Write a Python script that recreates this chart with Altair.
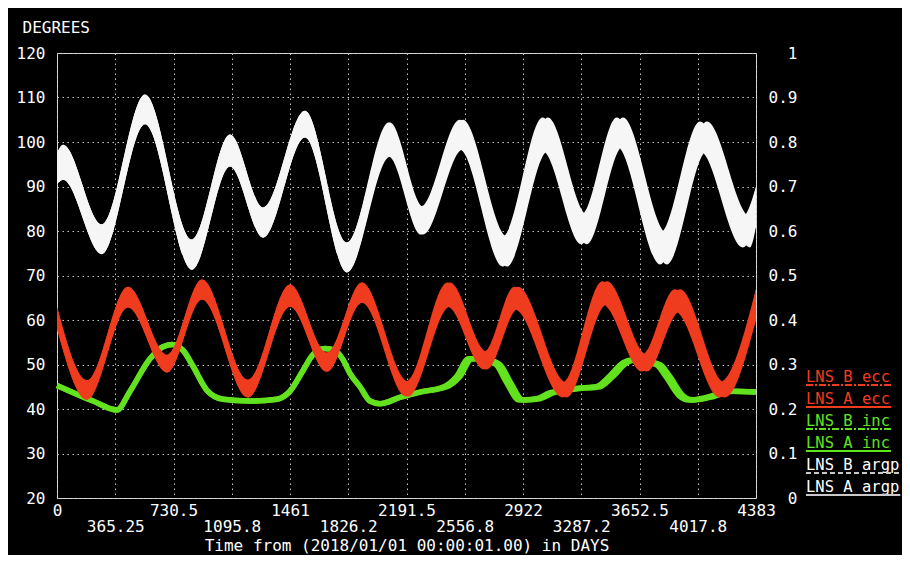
import altair as alt
import pandas as pd

FONT = "DejaVu Sans Mono"
RED = "#f03c1e"
GREEN = "#62e21e"
WHITE = "#f6f6f6"

# ---------------- data ----------------
# argument of perigee (degrees, left axis) - band envelopes
argpA_day = [0, 38, 282, 552, 846, 1085, 1292, 1555, 1818, 2088, 2295, 2545, 2821, 3078, 3323, 3549, 3824, 4075, 4345, 4383]
argpB_day = [0, 38, 282, 552, 846, 1085, 1292, 1555, 1818, 2080, 2282, 2525, 2795, 3045, 3288, 3510, 3782, 4032, 4300, 4383]
argp_lo = [90.5, 91.5, 74.8, 104.0, 71.3, 94.5, 78.5, 101.0, 70.7, 96.7, 79.2, 98.3, 72.0, 97.9, 77.0, 99.0, 72.5, 97.9, 76.3, 81.0]
argp_hi = [97.5, 99.4, 81.5, 110.7, 78.1, 101.7, 85.3, 107.0, 77.4, 104.4, 85.5, 105.0, 78.8, 105.5, 83.7, 105.5, 79.6, 104.6, 83.3, 90.0]

# eccentricity (right axis) - band envelopes
eccA_day = [0, 188, 445, 690, 909, 1197, 1461, 1693, 1912, 2201, 2464, 2696, 2890, 3197, 3448, 3699, 3906, 4188, 4383]
eccB_day = [0, 188, 445, 690, 909, 1197, 1461, 1693, 1912, 2190, 2448, 2678, 2868, 3172, 3420, 3668, 3874, 4155, 4383]
ecc_lo = [0.380, 0.221, 0.428, 0.282, 0.446, 0.226, 0.430, 0.284, 0.439, 0.228, 0.430, 0.289, 0.424, 0.226, 0.435, 0.284, 0.419, 0.226, 0.400]
ecc_hi = [0.430, 0.265, 0.475, 0.322, 0.491, 0.266, 0.480, 0.327, 0.484, 0.262, 0.484, 0.329, 0.475, 0.260, 0.487, 0.322, 0.469, 0.260, 0.470]

# inclination (degrees, left axis)
incA_day = [0, 226, 376, 458, 583, 665, 721, 790, 853, 940, 1041, 1210, 1379, 1461, 1542, 1605, 1680, 1743, 1793, 1837,
            1900, 1962, 2025, 2150, 2276, 2445, 2527, 2602, 2671, 2777, 2840, 2922, 3028, 3110, 3279, 3404, 3486, 3574,
            3624, 3781, 3843, 3925, 3987, 4094, 4238, 4383]
incB_day = [0, 226, 376, 458, 583, 665, 721, 790, 853, 940, 1041, 1210, 1379, 1461, 1542, 1605, 1680, 1743, 1793, 1837,
            1900, 1962, 2025, 2150, 2276, 2425, 2505, 2580, 2648, 2752, 2815, 2898, 3005, 3088, 3255, 3380, 3462, 3550,
            3600, 3755, 3818, 3900, 3962, 4070, 4215, 4383]
inc_val = [45.3, 41.8, 39.8, 44.0, 51.3, 54.0, 54.5, 53.2, 49.6, 44.2, 42.2, 41.8, 42.2, 44.0, 48.6, 52.2, 53.6, 53.2, 51.1, 48.0,
           45.0, 41.8, 41.2, 42.6, 43.8, 45.0, 47.3, 51.3, 51.3, 50.0, 46.2, 42.0, 42.3, 43.6, 44.6, 45.0, 47.3, 50.4,
           51.0, 50.0, 47.3, 43.0, 42.0, 42.6, 44.0, 43.8]

# axes
x_tick_days = [0, 365.25, 730.5, 1095.75, 1461, 1826.25, 2191.5, 2556.75, 2922, 3287.25, 3652.5, 4017.75, 4383]
x_tick_labels = ["0", "365.25", "730.5", "1095.8", "1461", "1826.2", "2191.5", "2556.8", "2922", "3287.2", "3652.5", "4017.8", "4383"]
deg_ticks = [20, 30, 40, 50, 60, 70, 80, 90, 100, 110, 120]
ecc_ticks = [0, 0.1, 0.2, 0.3, 0.4, 0.5, 0.6, 0.7, 0.8, 0.9, 1]

# legend
leg_names = ["LNS B ecc", "LNS A ecc", "LNS B inc", "LNS A inc", "LNS B argp", "LNS A argp"]
leg_text_colors = [RED, RED, GREEN, GREEN, "#ffffff", "#ffffff"]
leg_line_colors = [RED, RED, GREEN, GREEN, "#c8c8c8", "#c8c8c8"]
leg_styles = ["dashdot", "solid", "dashdot", "solid", "dash", "solid"]

# ---------------- tables ----------------
argpA = pd.DataFrame({"day": argpA_day, "lo": argp_lo, "hi": argp_hi})
argpB = pd.DataFrame({"day": argpB_day, "lo": argp_lo, "hi": argp_hi})
eccA = pd.DataFrame({"day": eccA_day, "lo": ecc_lo, "hi": ecc_hi})
eccB = pd.DataFrame({"day": eccB_day, "lo": ecc_lo, "hi": ecc_hi})
incA = pd.DataFrame({"day": incA_day, "inc": inc_val})
incB = pd.DataFrame({"day": incB_day, "inc": inc_val})

LEG_FS = 15.5
leg = pd.DataFrame({"name": leg_names, "tcolor": leg_text_colors, "lcolor": leg_line_colors, "style": leg_styles})
leg["i"] = range(len(leg))
leg["ty"] = 324 + 22 * leg["i"]
leg["uy"] = leg["ty"] + 8
leg["x1"] = 749
leg["x2"] = 749 + 0.602 * LEG_FS * leg["name"].str.len() + 1

# x label expression (two rows alternating)
parts = []
for k, (v, lab) in enumerate(zip(x_tick_days, x_tick_labels)):
    out = f"['', '{lab}']" if k % 2 else f"'{lab}'"
    parts.append(f"abs(datum.value - {v}) < 0.01 ? {out} : ")
x_label_expr = "".join(parts) + "''"

GRID_COLOR = "#c0c0c0"
GRID_DASH = [1.5, 3.5]

x_axis = alt.Axis(
    values=x_tick_days, labelExpr=x_label_expr, labelOverlap=False, labelFlush=False,
    labelAlign="center", labelBaseline="top", labelPadding=4, labelLineHeight=16,
    labelColor="white", labelFont=FONT, labelFontSize=16,
    ticks=False, domain=False, grid=True, gridColor=GRID_COLOR, gridDash=GRID_DASH, gridWidth=1,
    title="Time from (2018/01/01 00:00:01.00) in DAYS", titleColor="white", titleFont=FONT,
    titleFontSize=16, titleFontWeight="normal", titleY=47, titleBaseline="middle",
)
x_enc = alt.X("day:Q", scale=alt.Scale(domain=[0, 4383], nice=False, zero=False), axis=x_axis)

y_axis = alt.Axis(
    values=deg_ticks, format="d", labelPadding=12, labelColor="white", labelFont=FONT, labelFontSize=16,
    ticks=False, domain=False, grid=True, gridColor=GRID_COLOR, gridDash=GRID_DASH, gridWidth=1,
    title="DEGREES", titleAngle=0, titleX=-35, titleY=-26, titleAlign="left", titleBaseline="middle",
    titleColor="white", titleFont=FONT, titleFontSize=16, titleFontWeight="normal",
)
deg_scale = alt.Scale(domain=[20, 120], nice=False, zero=False)

r_axis = alt.Axis(
    orient="right", values=ecc_ticks, format="~g", labelAlign="right", labelPadding=41,
    labelColor="white", labelFont=FONT, labelFontSize=16, labelBaseline="middle",
    ticks=False, domain=False, grid=False, title=None,
)
ecc_scale = alt.Scale(domain=[0, 1], nice=False, zero=False)


def argp_layer(df):
    return alt.Chart(df).mark_area(color=WHITE, interpolate="monotone").encode(
        x=x_enc, y=alt.Y("lo:Q", scale=deg_scale, axis=y_axis), y2="hi:Q")


def inc_layer(df):
    return alt.Chart(df).mark_line(color=GREEN, strokeWidth=5.5, interpolate="monotone").encode(
        x=x_enc, y=alt.Y("inc:Q", scale=deg_scale, axis=y_axis))


def ecc_layer(df):
    return alt.Chart(df).mark_area(color=RED, interpolate="monotone").encode(
        x=x_enc, y=alt.Y("lo:Q", scale=ecc_scale, axis=r_axis), y2="hi:Q")


left = alt.layer(argp_layer(argpA), argp_layer(argpB), inc_layer(incA), inc_layer(incB))
right = alt.layer(ecc_layer(eccA), ecc_layer(eccB))

leg_base = alt.Chart(leg)
leg_text = leg_base.mark_text(align="left", baseline="middle", font=FONT, fontSize=LEG_FS).encode(
    x=alt.X("x1:Q", scale=None, axis=None),
    y=alt.Y("ty:Q", scale=None, axis=None),
    text="name:N",
    color=alt.Color("tcolor:N", scale=None, legend=None),
)


def leg_rule(style, dash):
    return leg_base.transform_filter(alt.datum.style == style).mark_rule(strokeWidth=2, strokeDash=dash).encode(
        x=alt.X("x1:Q", scale=None, axis=None), x2="x2:Q",
        y=alt.Y("uy:Q", scale=None, axis=None),
        color=alt.Color("lcolor:N", scale=None, legend=None),
    )


legend = alt.layer(leg_text, leg_rule("solid", [1, 0]), leg_rule("dashdot", [7, 2, 2, 2]), leg_rule("dash", [5, 3]))

chart = (
    alt.layer(left, right, legend)
    .resolve_scale(y="independent")
    .properties(
        width=699, height=445,
        padding={"left": 49, "top": 45, "right": 146, "bottom": 57},
        autosize=alt.AutoSizeParams(type="none"),
        background="black",
    )
    .configure_view(stroke="#bdbdbd", strokeWidth=2)
    .configure(font=FONT)
)

chart.save("out.html", embed_options={"renderer": "svg", "actions": False})
